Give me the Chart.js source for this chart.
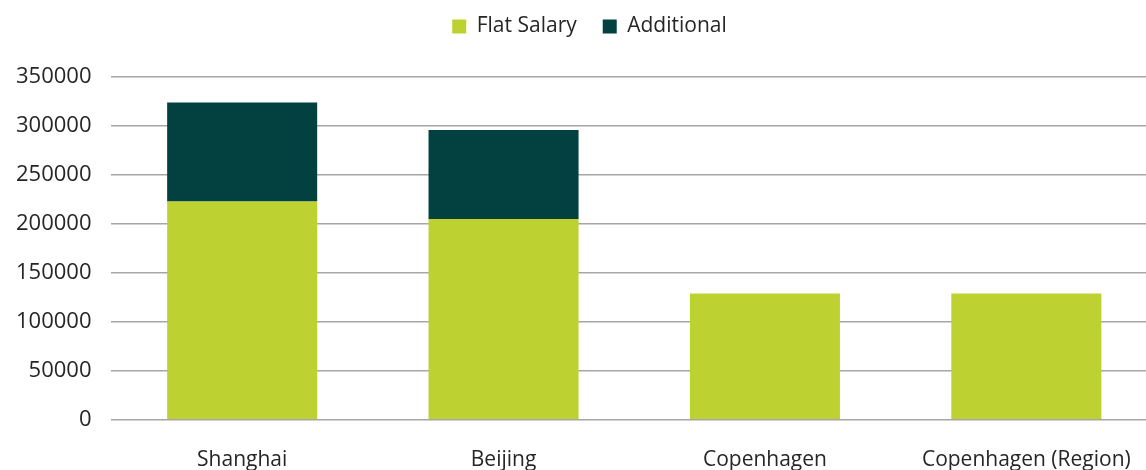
<!DOCTYPE html>
<html>
<head>
<meta charset="utf-8">
<script src="https://cdn.jsdelivr.net/npm/chart.js@4/dist/chart.umd.min.js"></script>
<style>
  html, body { margin: 0; padding: 0; background: #fff; overflow: hidden; height: 470px; }
  #wrap { width: 1157px; height: 493px; position: relative; }
</style>
</head>
<body>
<div id="wrap"><canvas id="salaryChart"></canvas></div>
<script>
const cities = ['Shanghai', 'Beijing', 'Copenhagen', 'Copenhagen (Region)'];
const flatSalary = [223000, 205000, 129000, 129000];
const additional = [101000, 91000, 0, 0];
const yTicks = [0, 50000, 100000, 150000, 200000, 250000, 300000, 350000];

// extra room under the legend, and nudge it right like the original
const legendGap = {
    id: 'legendGap',
    beforeInit(chart) {
        const legend = chart.legend;
        const fit = legend.fit;
        legend.fit = function () {
            fit.bind(legend)();
            this.height += 30;
        };
        const draw = legend.draw;
        legend.draw = function () {
            chart.ctx.save();
            chart.ctx.translate(13, 0);
            draw.call(legend);
            chart.ctx.restore();
        };
    }
};

const ctx = document.getElementById('salaryChart').getContext('2d');
new Chart(ctx, {
    type: 'bar',
    data: {
        labels: cities,
        datasets: [{
            label: 'Flat Salary',
            data: flatSalary,
            backgroundColor: '#BDD230',
            barPercentage: 0.574,
            categoryPercentage: 1
        }, {
            label: 'Additional',
            data: additional,
            backgroundColor: '#034040',
            barPercentage: 0.574,
            categoryPercentage: 1
        }]
    },
    options: {
        responsive: true,
        maintainAspectRatio: false,
        animation: false,
        layout: { padding: { left: -4, right: 0, top: -10, bottom: 0 } },
        plugins: {
            legend: {
                position: 'top',
                labels: {
                    boxWidth: 14,
                    boxHeight: 14,
                    padding: 26,
                    color: '#262626',
                    font: { family: 'Open Sans', size: 21 }
                }
            },
            tooltip: { enabled: false }
        },
        scales: {
            x: {
                stacked: true,
                grid: { display: false },
                border: { display: false },
                ticks: {
                    color: '#262626',
                    padding: 20,
                    font: { family: 'Open Sans', size: 21 }
                }
            },
            y: {
                stacked: true,
                min: 0,
                max: 350000,
                afterBuildTicks(axis) {
                    axis.ticks = yTicks.map(v => ({ value: v }));
                },
                grid: { color: '#a6a6a6', lineWidth: 1.5, drawTicks: false },
                border: { display: false },
                ticks: {
                    color: '#262626',
                    padding: 20,
                    font: { family: 'Open Sans', size: 22 },
                    callback: v => String(v)
                }
            }
        }
    },
    plugins: [legendGap]
});
</script>
</body>
</html>
